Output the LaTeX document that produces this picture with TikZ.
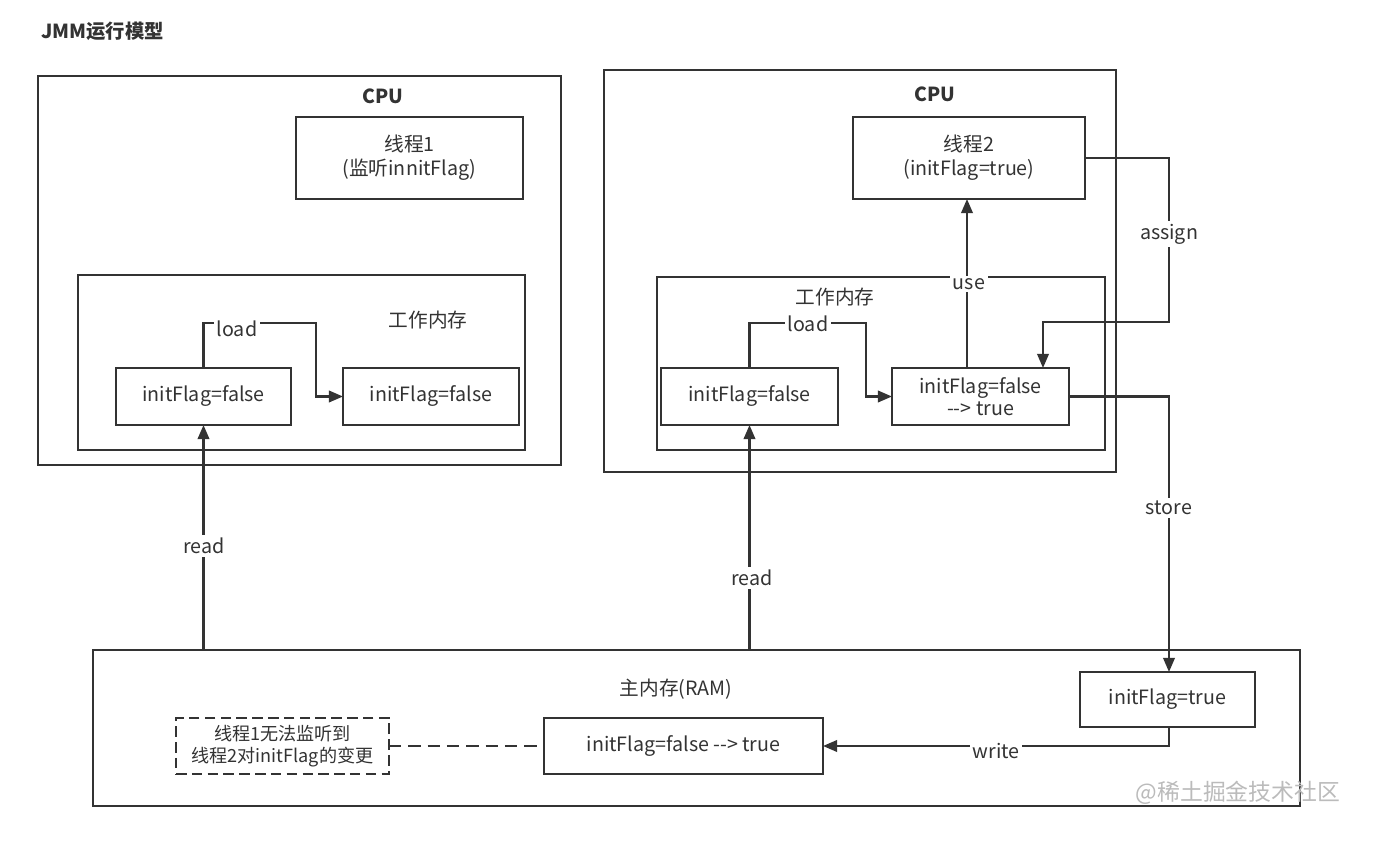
\documentclass[tikz,border=0pt]{standalone}
\usepackage{fontspec}
\setmainfont{Noto Sans CJK SC}
\usetikzlibrary{arrows.meta}
\definecolor{ink}{HTML}{333333}
\definecolor{wm}{HTML}{BBBBBB}
\newcommand{\dd}{-{}->}
\tikzset{
  sz/.style 2 args={minimum width=#1*0.02cm, minimum height=#2*0.02cm},
  box/.style={draw=ink, line width=1.3pt, rectangle, inner sep=0pt, outer sep=0pt, fill=white},
  dbox/.style={box, line width=1.5pt, dash pattern=on 6pt off 3pt},
  txt/.style={text=ink, font=\fontsize{11.2}{13.5}\selectfont, align=center, inner sep=1pt},
  btxt/.style={text=ink, font=\fontsize{11}{13.5}\selectfont\bfseries},
  lbl/.style={txt, fill=white, inner sep=1.5pt},
  arr/.style={draw=ink, line width=1.3pt, -{Triangle[length=8pt,width=6.5pt]}},
  con/.style={draw=ink, line width=1.5pt},
}
\begin{document}
\begin{tikzpicture}[x=0.02cm,y=-0.02cm]
\useasboundingbox[fill=white] (0,0) rectangle (1400,847);
% title
\node[btxt, anchor=west] (title) at (35,31) {JMM运行模型};
% left CPU
\node[box, sz={523}{389}] (cpuL) at (299.5,270.5) {};
\node[btxt] (cpuLt) at (383,96) {CPU};
\node[box, sz={227}{82}, txt] (t1) at (409.5,158) {线程1\\(监听innitFlag)};
\node[box, sz={447}{175}] (wmL) at (301.5,362.5) {};
\node[txt] (wmLt) at (428,320) {工作内存};
\node[box, sz={175}{57}, txt] (fL1) at (203.5,396.5) {initFlag=false};
\node[box, sz={176}{57}, txt] (fL2) at (431,396.5) {initFlag=false};
% right CPU
\node[box, sz={512}{402}] (cpuR) at (860,271) {};
\node[btxt] (cpuRt) at (935,94) {CPU};
\node[box, sz={232}{82}, txt] (t2) at (969,158) {线程2\\(initFlag=true)};
\node[box, sz={448}{173}] (wmR) at (881,363.5) {};
\node[txt] (wmRt) at (835,297) {工作内存};
\node[box, sz={177}{57}, txt] (fR1) at (749.5,396.5) {initFlag=false};
\node[box, sz={177}{57}, txt] (fR2) at (980.5,396.5) {initFlag=false\\[-1pt]\dd{} true};
% main memory
\node[box, sz={1207}{156}] (ram) at (696.5,728) {};
\node[txt] (ramt) at (676,689) {主内存(RAM)};
\node[box, sz={175}{55}, txt] (tr) at (1167.5,699.5) {initFlag=true};
\node[box, sz={279}{56}, txt] (ft) at (683.5,746) {initFlag=false \dd{} true};
\node[dbox, sz={213}{56}, txt, font=\fontsize{10.3}{12.5}\selectfont] (note) at (282.5,746) {线程1无法监听到\\线程2对initFlag的变更};
% connectors left
\draw[arr] (fL1.north) -- ++(0,-45) -- (316,323) -- (316,396.5) -- (fL2.west);
\node[lbl] (loadL) at (237,329) {load};
\draw[arr] (fL1.south |- ram.north) -- (fL1.south);
\node[lbl] (readL) at (204,546) {read};
% connectors right
\draw[arr] (fR1.north) -- ++(0,-45) -- (866,323) -- (866,396.5) -- (fR2.west);
\node[lbl] (loadR) at (808,324) {load};
\draw[arr] (fR1.south |- ram.north) -- (fR1.south);
\node[lbl] (readR) at (752,578) {read};
\draw[arr] (967,368) -- (967,199);
\node[lbl] (useL) at (969,284) {use};
\draw[arr] (t2.east) -- (1169,158) -- (1169,322) -- (1043,322) -- (1043,368);
\node[lbl] (assignL) at (1169,234) {assign};
\draw[arr] (fR2.east) -- (1169,396.5) -- (1169,672);
\node[lbl] (storeL) at (1169,508) {store};
\draw[arr] (1169,727) -- (1169,746) -- (ft.east);
\node[lbl] (writeL) at (996,751) {write};
\draw[con, dash pattern=on 7pt off 4pt] (note.east) -- (ft.west);
% watermark
\node[text=wm, font=\fontsize{13}{15}\selectfont] (wmk) at (1238,793) {@稀土掘金技术社区};
\end{tikzpicture}
\end{document}
